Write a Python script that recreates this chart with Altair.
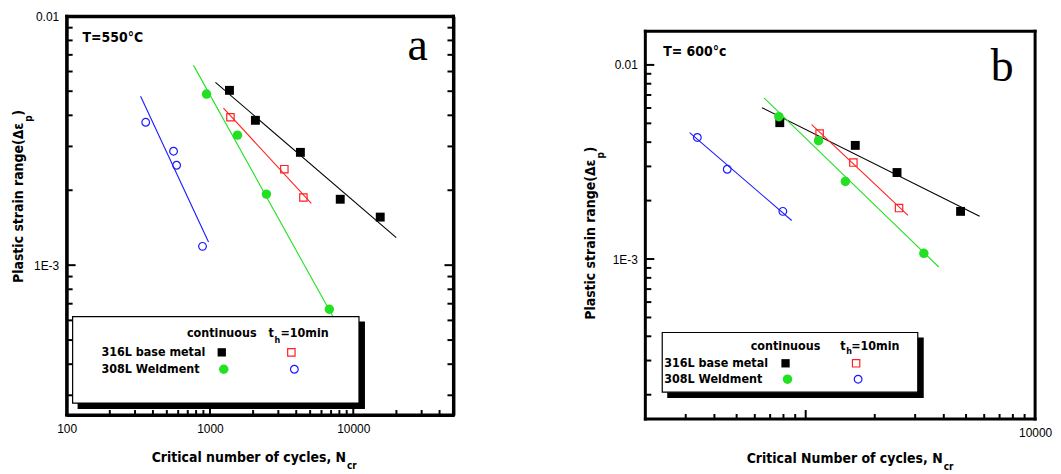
import altair as alt
import pandas as pd

BOLD = "Liberation Sans Narrow, Arial Narrow, DejaVu Sans Condensed, Liberation Sans, Arial, sans-serif"
REG = "Liberation Sans, Arial, sans-serif"
SERIF = "Liberation Serif, Times New Roman, serif"

BLACK = "#000000"
RED = "#ff2020"
GREEN = "#22e022"
BLUE = "#1a1aff"

# ---------------- Panel a : T = 550 C ----------------
a_base_cont_N = [1368, 2075, 4276, 8110, 15420]
a_base_cont_e = [5.04e-3, 3.82e-3, 2.84e-3, 1.84e-3, 1.56e-3]
a_base_hold_N = [1390, 3304, 4487]
a_base_hold_e = [3.93e-3, 2.43e-3, 1.87e-3]
a_weld_cont_N = [946, 1556, 2477, 6806]
a_weld_cont_e = [4.87e-3, 3.33e-3, 1.93e-3, 6.65e-4]
a_weld_hold_N = [356, 557, 585, 887]
a_weld_hold_e = [3.75e-3, 2.87e-3, 2.52e-3, 1.19e-3]

a_fit_base_cont_N = [1092, 19950]
a_fit_base_cont_e = [5.43e-3, 1.29e-3]
a_fit_base_hold_N = [1242, 5093]
a_fit_base_hold_e = [4.28e-3, 1.77e-3]
a_fit_weld_cont_N = [768, 7500]
a_fit_weld_cont_e = [6.35e-3, 5.96e-4]
a_fit_weld_hold_N = [328, 977]
a_fit_weld_hold_e = [4.77e-3, 1.24e-3]

a_x_domain = [100, 50000]
a_y_domain = [2.5e-4, 1e-2]
a_x_labels = [100, 1000, 10000]
a_y_labels = [1e-3, 1e-2]
a_x_major = [1000, 10000]
a_x_minor = [200, 300, 400, 500, 600, 700, 800, 900,
             2000, 3000, 4000, 5000, 6000, 7000, 8000, 9000,
             20000, 30000, 40000]
a_y_major = [1e-3, 1e-2]
a_y_minor = [3e-4, 4e-4, 5e-4, 6e-4, 7e-4, 8e-4, 9e-4,
             2e-3, 3e-3, 4e-3, 5e-3, 6e-3, 7e-3, 8e-3, 9e-3]

# ---------------- Panel b : T = 600 C ----------------
b_base_cont_N = [771, 1645, 2501, 4733]
b_base_cont_e = [5.04e-3, 3.85e-3, 2.79e-3, 1.76e-3]
b_base_hold_N = [1150, 1614, 2552]
b_base_hold_e = [4.43e-3, 3.14e-3, 1.83e-3]
b_weld_cont_N = [764, 1138, 1489, 3274]
b_weld_cont_e = [5.41e-3, 4.07e-3, 2.51e-3, 1.07e-3]
b_weld_hold_N = [337, 455, 795]
b_weld_hold_e = [4.23e-3, 2.90e-3, 1.76e-3]

b_fit_base_cont_N = [645, 5729]
b_fit_base_cont_e = [6.02e-3, 1.66e-3]
b_fit_base_hold_N = [1062, 2793]
b_fit_base_hold_e = [4.92e-3, 1.68e-3]
b_fit_weld_cont_N = [658, 3802]
b_fit_weld_cont_e = [6.77e-3, 9.1e-4]
b_fit_weld_hold_N = [312, 869]
b_fit_weld_hold_e = [4.48e-3, 1.58e-3]

b_x_domain = [200, 10000]
b_y_domain = [1.5e-4, 0.0178]
b_x_labels = [10000]
b_y_labels = [1e-3, 1e-2]
b_x_major = [1000]
b_x_minor = [300, 400, 500, 600, 700, 800, 900,
             2000, 3000, 4000, 5000, 6000, 7000, 8000, 9000]
b_y_major = [1e-3, 1e-2]
b_y_minor = [2e-4, 3e-4, 4e-4, 5e-4, 6e-4, 7e-4, 8e-4, 9e-4,
             2e-3, 3e-3, 4e-3, 5e-3, 6e-3, 7e-3, 8e-3, 9e-3]

legend_head_cont = "continuous"
legend_rows = ["316L base metal", "308L Weldment"]

WA, HA = 389, 401
WB, HB = 392, 405
GAP = 193


def one():
    return pd.DataFrame({"k": [0]})


def txt(x, y, s, size=14, font=BOLD, weight="bold", align="left", angle=0, baseline="middle"):
    kw = dict(text=s, font=font, fontSize=size, fontWeight=weight, align=align,
              baseline=baseline, color="black")
    if angle:
        kw["angle"] = angle
    return alt.Chart(one()).mark_text(**kw).encode(x=alt.value(x), y=alt.value(y))


def bar(x0, x1, y0, y1):
    return alt.Chart(one()).mark_rect(color="black", opacity=1).encode(
        x=alt.value(x0), x2=alt.value(x1), y=alt.value(y0), y2=alt.value(y1))


def frame(x0, y0, x1, y1, w=3.0):
    h = w / 2
    return [bar(x0 - h, x1 + h, y0 - h, y0 + h),
            bar(x0 - h, x1 + h, y1 - h, y1 + h),
            bar(x0 - h, x0 + h, y0 - h, y1 + h),
            bar(x1 - h, x1 + h, y0 - h, y1 + h)]


def build(W, H, xdom, ydom, ftop, xlabels, ylabels, xmaj, xmin, ymaj, ymin,
          series, fits, right_ticks, texts, legend, axis_frame):
    xs = alt.Scale(type="log", domain=xdom, nice=False)
    ys = alt.Scale(type="log", domain=ydom, nice=False)
    dom = dict(domain=axis_frame, domainColor="black", domainWidth=3) if axis_frame else dict(domain=False)
    xaxis = alt.Axis(values=xlabels, format="d", ticks=False, tickSize=0, grid=False,
                     labelFont=REG, labelFontSize=12, labelColor="black", labelPadding=9,
                     labelFlush=False, labelOverlap=False, title="", **dom)
    yaxis = alt.Axis(values=ylabels, labelExpr="datum.value > 0.005 ? '0.01' : '1E-3'",
                     ticks=False, tickSize=0, grid=False,
                     labelFont=REG, labelFontSize=12, labelColor="black", labelPadding=8,
                     labelFlush=False, labelOverlap=False, title="", **dom)

    def X(f, ax=True):
        if axis_frame and not ax:
            return alt.X(f, type="quantitative", scale=xs, axis=None)
        return alt.X(f, type="quantitative", scale=xs, axis=xaxis)

    def Y(f, ax=True):
        if axis_frame and not ax:
            return alt.Y(f, type="quantitative", scale=ys, axis=None)
        return alt.Y(f, type="quantitative", scale=ys, axis=yaxis)

    layers = []
    # fitted lines
    for (N, e, col) in fits:
        d = pd.DataFrame({"N": N, "eps": e})
        layers.append(alt.Chart(d).mark_line(color=col, strokeWidth=1.1).encode(
            x=X("N", False), y=Y("eps", False)))
    # data points
    for (N, e, col, shape, filled) in series:
        d = pd.DataFrame({"N": N, "eps": e})
        if filled:
            m = alt.Chart(d).mark_point(shape=shape, filled=True, color=col, opacity=1,
                                        size=80 if shape == "square" else 90)
        else:
            m = alt.Chart(d).mark_point(shape=shape, filled=False, color=col, opacity=1,
                                        strokeWidth=1.2, size=55 if shape == "square" else 60)
        layers.append(m.encode(x=X("N", False), y=Y("eps", False)))

    # legend box
    (lx0, ly0, lx1, ly1, items) = legend
    layers.append(alt.Chart(one()).mark_rect(color="black").encode(
        x=alt.value(lx0 + 5), x2=alt.value(lx1 + 6), y=alt.value(ly0 + 5), y2=alt.value(ly1 + 6)))
    layers.append(alt.Chart(one()).mark_rect(fill="white", stroke="black", strokeWidth=1.2).encode(
        x=alt.value(lx0), x2=alt.value(lx1), y=alt.value(ly0), y2=alt.value(ly1)))
    for it in items:
        if it[0] == "text":
            _, x, y, s, size, align = it
            layers.append(txt(x, y, s, size=size, align=align))
        else:
            _, x, y, col, shape, filled = it
            if filled:
                m = alt.Chart(one()).mark_point(shape=shape, filled=True, color=col, opacity=1,
                                                size=70 if shape == "square" else 90)
            else:
                m = alt.Chart(one()).mark_point(shape=shape, filled=False, color=col, opacity=1,
                                                strokeWidth=1.2, size=55 if shape == "square" else 60)
            layers.append(m.encode(x=alt.value(x), y=alt.value(y)))

    # frame as filled strips
    layers.extend(frame(0, ftop, W, H))

    # tick marks (inward); the minor-tick layers carry the labelled axes
    tk = pd.DataFrame({"v": xmin})
    layers.append(alt.Chart(tk).mark_rule(color="black", strokeWidth=2).encode(
        x=X("v", True), y=alt.value(H), y2=alt.value(H - 5)))
    tk = pd.DataFrame({"v": xmaj})
    layers.append(alt.Chart(tk).mark_rule(color="black", strokeWidth=2).encode(
        x=X("v", False), y=alt.value(H), y2=alt.value(H - 9)))
    tk = pd.DataFrame({"v": ymin})
    layers.append(alt.Chart(tk).mark_rule(color="black", strokeWidth=2).encode(
        y=Y("v", True), x=alt.value(0), x2=alt.value(6)))
    tk = pd.DataFrame({"v": ymaj})
    layers.append(alt.Chart(tk).mark_rule(color="black", strokeWidth=2).encode(
        y=Y("v", False), x=alt.value(0), x2=alt.value(9)))
    if right_ticks:
        tk = pd.DataFrame({"v": ymin})
        layers.append(alt.Chart(tk).mark_rule(color="black", strokeWidth=2).encode(
            y=Y("v", False), x=alt.value(W), x2=alt.value(W - 6)))
        tk = pd.DataFrame({"v": ymaj})
        layers.append(alt.Chart(tk).mark_rule(color="black", strokeWidth=2).encode(
            y=Y("v", False), x=alt.value(W), x2=alt.value(W - 9)))

    if axis_frame:
        # an invisible layer whose top and right axes draw the two remaining frame sides
        edge = pd.DataFrame({"ex": [xdom[0]], "ey": [ydom[0]]})
        top_ax = alt.Axis(orient="top", labels=False, ticks=False, grid=False, title="",
                          domain=True, domainColor="black", domainWidth=3)
        right_ax = alt.Axis(orient="right", labels=False, ticks=False, grid=False, title="",
                            domain=True, domainColor="black", domainWidth=3)
        layers.append(alt.Chart(edge).mark_point(opacity=0, size=1).encode(
            x=alt.X("ex", type="quantitative", scale=xs, axis=top_ax),
            y=alt.Y("ey", type="quantitative", scale=ys, axis=right_ax)))

    # texts
    for t in texts:
        layers.append(t)

    ch = alt.layer(*layers).properties(width=W, height=H)
    if axis_frame:
        ch = ch.resolve_axis(x="independent", y="independent")
    return ch


# ---------------- panel a ----------------
a_points = [
    (a_base_cont_N, a_base_cont_e, BLACK, "square", True),
    (a_base_hold_N, a_base_hold_e, RED, "square", False),
    (a_weld_cont_N, a_weld_cont_e, GREEN, "circle", True),
    (a_weld_hold_N, a_weld_hold_e, BLUE, "circle", False),
]
a_fits = [
    (a_fit_base_cont_N, a_fit_base_cont_e, BLACK),
    (a_fit_base_hold_N, a_fit_base_hold_e, RED),
    (a_fit_weld_cont_N, a_fit_weld_cont_e, GREEN),
    (a_fit_weld_hold_N, a_fit_weld_hold_e, BLUE),
]
a_texts = [
    txt(16, 22, "T=550°C", size=14),
    txt(353, 44, "a", size=46, font=SERIF, weight="normal", align="center", baseline="alphabetic"),
    txt(-48, 107, "Plastic strain range(Δε", size=14, align="right", angle=270),
    txt(-38, 106, "p", size=10, align="left", angle=270),
    txt(-48, 100, ")", size=14, align="left", angle=270),
    txt(281, 444, "Critical number of cycles, N", size=14, align="right"),
    txt(282, 452, "cr", size=10, align="left"),
]
a_legend = (6, 302, 294, 389, [
    ("text", 156, 319, legend_head_cont, 12.5, "center"),
    ("text", 203, 319, "t", 12.5, "left"),
    ("text", 209, 326, "h", 9, "left"),
    ("text", 215, 319, "=10min", 12.5, "left"),
    ("text", 35, 338, legend_rows[0], 12.5, "left"),
    ("text", 35, 355, legend_rows[1], 12.5, "left"),
    ("pt", 156, 338, BLACK, "square", True),
    ("pt", 226, 338, RED, "square", False),
    ("pt", 158, 355, GREEN, "circle", True),
    ("pt", 229, 355, BLUE, "circle", False),
])
pa = build(WA, HA, a_x_domain, a_y_domain, 0, a_x_labels, a_y_labels,
           a_x_major, a_x_minor, a_y_major, a_y_minor, a_points, a_fits, True, a_texts, a_legend,
           True)

# ---------------- panel b ----------------
b_points = [
    (b_base_cont_N, b_base_cont_e, BLACK, "square", True),
    (b_base_hold_N, b_base_hold_e, RED, "square", False),
    (b_weld_cont_N, b_weld_cont_e, GREEN, "circle", True),
    (b_weld_hold_N, b_weld_hold_e, BLUE, "circle", False),
]
b_fits = [
    (b_fit_base_cont_N, b_fit_base_cont_e, BLACK),
    (b_fit_base_hold_N, b_fit_base_hold_e, RED),
    (b_fit_weld_cont_N, b_fit_weld_cont_e, GREEN),
    (b_fit_weld_hold_N, b_fit_weld_hold_e, BLUE),
]
b_texts = [
    txt(18, 36, "T= 600°c", size=14),
    txt(359, 65, "b", size=46, font=SERIF, weight="normal", align="center", baseline="alphabetic"),
    txt(-55, 144, "Plastic strain range(Δε", size=14, align="right", angle=270),
    txt(-45, 143, "p", size=10, align="left", angle=270),
    txt(-55, 137, ")", size=14, align="left", angle=270),
    txt(299, 445, "Critical Number of cycles, N", size=14, align="right"),
    txt(300, 453, "cr", size=10, align="left"),
]
b_legend = (17, 318, 274, 378, [
    ("text", 141, 332, legend_head_cont, 12.5, "center"),
    ("text", 196, 332, "t", 12.5, "left"),
    ("text", 202, 337, "h", 9, "left"),
    ("text", 207, 332, "=10min", 12.5, "left"),
    ("text", 19, 349, legend_rows[0], 12.5, "left"),
    ("text", 19, 365, legend_rows[1], 12.5, "left"),
    ("pt", 141, 349, BLACK, "square", True),
    ("pt", 212, 349, RED, "square", False),
    ("pt", 143, 365, GREEN, "circle", True),
    ("pt", 214, 365, BLUE, "circle", False),
])
pb = build(WB, HB, b_x_domain, b_y_domain, 15, b_x_labels, b_y_labels,
           b_x_major, b_x_minor, b_y_major, b_y_minor, b_points, b_fits, False, b_texts, b_legend,
           False)

chart = alt.hconcat(pa, pb, spacing=GAP, bounds="flush").properties(
    padding={"left": 3, "top": 0, "right": 0, "bottom": 0},
    background="white",
).configure_view(stroke="transparent")

chart.save("out.html", embed_options={"renderer": "svg", "actions": False})
